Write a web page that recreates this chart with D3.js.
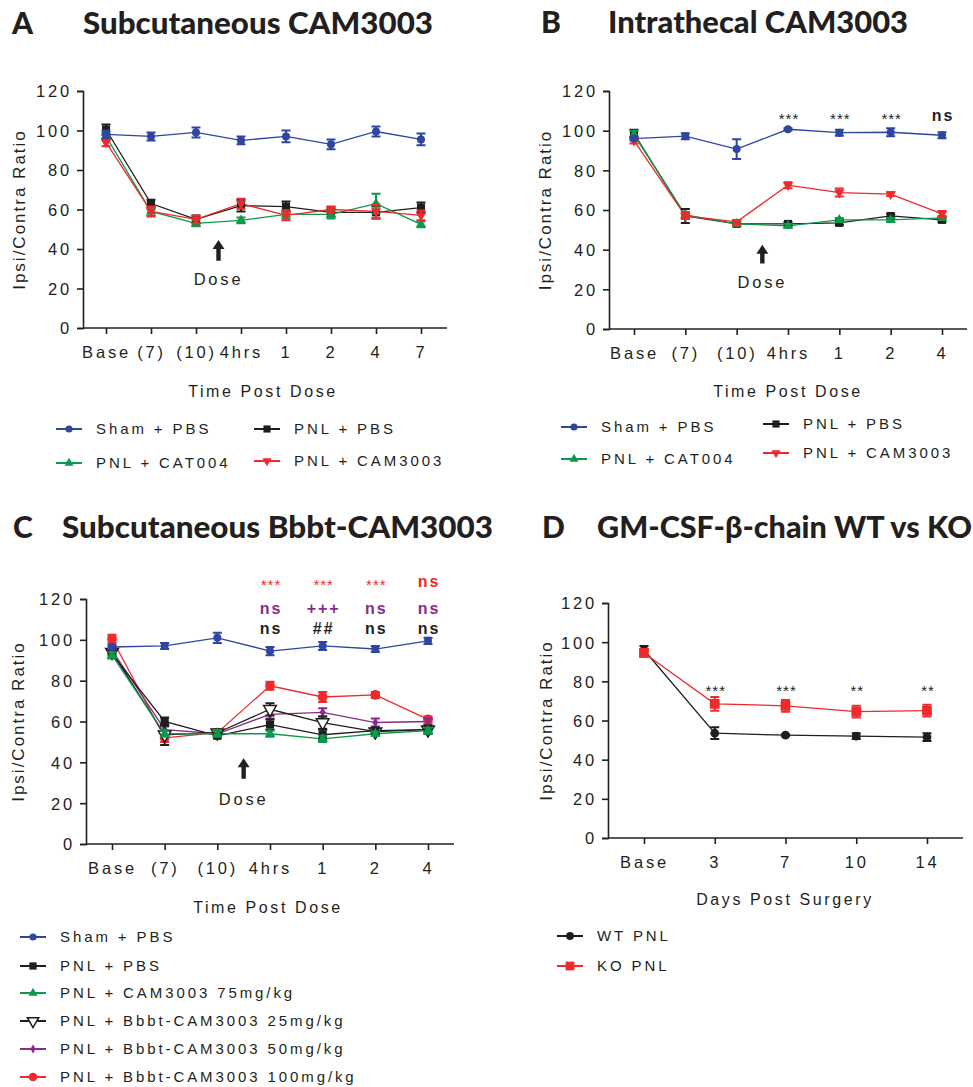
<!DOCTYPE html>
<html><head><meta charset="utf-8">
<script src="https://cdn.jsdelivr.net/npm/d3@7"></script>
<style>
body{margin:0;background:#fff;}
svg{display:block;}
</style></head>
<body>
<svg id="chart" width="973" height="1087"></svg>
<script>
// ---------- DATA ----------
const yTicks = [0,20,40,60,80,100,120];
const catsA = ["Base","(7)","(10)","4hrs","1","2","4","7"];
const catsB = ["Base","(7)","(10)","4hrs","1","2","4"];
const catsC = ["Base","(7)","(10)","4hrs","1","2","4"];
const catsD = ["Base","3","7","10","14"];

// Panel A
const aSham = [98,97,99,95,97,93,99.5,95.5];
const aShamErr = [2,2,2.5,2,3,2.5,2.5,3];
const aPbs = [100.5,63,55,62,61.5,58.5,58.5,61];
const aPbsErr = [2.5,2,2,3,2.5,2,3,2.5];
const aCat = [97,59,53,54.5,57.5,57.5,63,52.5];
const aCatErr = [2,2,1.5,1.5,2,2,5,1.5];
const aCam = [94,59,55,63,57,60,59,57];
const aCamErr = [2,2.5,2,2.5,2.5,1.5,3.5,2.5];

// Panel B
const bSham = [96,97.2,90.7,100.7,99,99.2,97.7];
const bShamErr = [1,1.5,5,0.5,1.5,2,1.5];
const bPbs = [98.5,57,53,53,53.5,57,55];
const bPbsErr = [2,3.5,1,1,1,1,1];
const bCat = [98,57.5,53,52,55,55,56];
const bCatErr = [2,1.5,1,1,1,1,1];
const bCam = [95,57,54,72.5,68.8,68,58];
const bCamErr = [1.5,1.5,1,1.5,2,1,1.5];
const bSig = ["","","","***","***","***","ns"];

// Panel C
const cSham = [96.5,97,101,94.5,97,95.5,99.5];
const cShamErr = [1,1.5,2.5,2,2,1.5,1.5];
const cPbs = [93,60,53,58.5,53.5,55.5,56];
const cPbsErr = [2,2,1,2.5,2.5,1.5,2];
const cCam75 = [92.5,54,54,54,51.5,54,55.5];
const cCam75Err = [1.5,1.5,1.5,1.5,1.5,1,1.5];
const cB25 = [94,53.5,54.5,66,59.5,55,56];
const cB25Err = [1.5,5,1.5,3,3,1.5,1.5];
const cB50 = [95,56,54,63.5,64.5,59.5,60];
const cB50Err = [1.5,1.5,1,2,2,2,1.5];
const cB100 = [100.5,52,54.5,77.5,72,73,61];
const cB100Err = [2,2,1,2,2.5,1.5,1.5];
const cSigRed = ["","","","***","***","***","ns"];
const cSigPurple = ["","","","ns","+++","ns","ns"];
const cSigBlack = ["","","","ns","##","ns","ns"];

// Panel D
const dWt = [96,53.5,52.5,52,51.5];
const dWtErr = [2,3,0.5,1.5,2];
const dKo = [94.5,68.5,67.5,64.5,65];
const dKoErr = [2,3.5,3,3,3];
const dSig = ["","***","***","**","**"];

// ---------- STYLE ----------
const C = {blue:"#2f45a0", black:"#1e1e1e", green:"#0b9a4a", red:"#ee2a2c", purple:"#8a2a8c", text:"#231f20"};
const tickFont = "'Liberation Sans', Arial, sans-serif";
const titleFont = "Lato, 'Open Sans', sans-serif";

const svg = d3.select("#chart");

function marker(g, type, color, x, y, size){
  const map = {circle:d3.symbolCircle, square:d3.symbolSquare, triUp:d3.symbolTriangle, triDown:d3.symbolTriangle, diamond:d3.symbolDiamond, openDown:d3.symbolTriangle};
  const p = g.append("path").attr("d", d3.symbol().type(map[type]).size(size)())
    .attr("transform", `translate(${x},${y})` + ((type==="triDown"||type==="openDown")?" rotate(180)":""));
  if(type==="openDown") p.attr("fill","#fff").attr("stroke",color).attr("stroke-width",1.5);
  else p.attr("fill",color);
  return p;
}

function panel(cfg){
  const g = svg.append("g");
  const x = d3.scaleLinear().domain([0,cfg.cats.length-1]).range([cfg.t0,cfg.t1]);
  const y = d3.scaleLinear().domain([0,120]).range([cfg.yb,cfg.yt]);
  // title
  g.append("text").attr("x",cfg.letterX).attr("y",cfg.titleY).text(cfg.letter)
    .attr("font-family",titleFont).attr("font-weight",900).attr("font-size",30).attr("fill",C.text);
  g.append("text").attr("x",cfg.titleX).attr("y",cfg.titleY).text(cfg.title)
    .attr("font-family",titleFont).attr("font-weight",900).attr("font-size",30).attr("fill",C.text)
    .attr("textLength",cfg.titleW).attr("lengthAdjust","spacingAndGlyphs");
  // y axis
  const ya = g.append("g").attr("transform",`translate(${cfg.ax},0)`)
    .call(d3.axisLeft(y).tickValues(yTicks).tickSize(6).tickPadding(5));
  // x axis
  const xa = g.append("g").attr("transform",`translate(0,${cfg.yb})`)
    .call(d3.axisBottom(x).tickValues(d3.range(cfg.cats.length)).tickFormat(i=>cfg.cats[i]).tickSize(6).tickPadding(12));
  xa.select(".domain").attr("d",`M${cfg.ax},0H${cfg.axEnd}`);
  [ya,xa].forEach(a=>{
    a.select(".domain").attr("stroke",C.text).attr("stroke-width",1.6);
    a.selectAll(".tick line").attr("stroke",C.text).attr("stroke-width",1.6);
    a.selectAll(".tick text").attr("font-family",tickFont).attr("font-size",16.5)
      .attr("letter-spacing","2.8px").attr("fill",C.text);
  });
  ya.selectAll(".tick text").attr("dy","0.36em");
  xa.selectAll(".tick text").attr("dy","0.75em");
  // axis labels
  g.append("text").attr("transform",`translate(${cfg.ylabX},${(cfg.yb+cfg.yt)/2}) rotate(-90)`)
    .attr("text-anchor","middle").text("Ipsi/Contra Ratio")
    .attr("font-family",tickFont).attr("font-size",17).attr("letter-spacing","2px").attr("fill",C.text);
  g.append("text").attr("x",cfg.xlabCx).attr("y",cfg.xlabY).attr("text-anchor","middle").text(cfg.xlab)
    .attr("font-family",tickFont).attr("font-size",16).attr("letter-spacing","2.6px").attr("fill",C.text);
  // series (draw in order)
  cfg.series.forEach(s=>{
    const line = d3.line().x((d,i)=>x(i)).y(d=>y(d));
    g.append("path").datum(s.values).attr("d",line).attr("fill","none")
      .attr("stroke",s.color).attr("stroke-width",1.3);
  });
  cfg.series.forEach(s=>{
    const sg = g.append("g");
    s.values.forEach((v,i)=>{
      const e = s.err[i];
      const cx = x(i);
      sg.append("path").attr("d",`M${cx},${y(v-e)}V${y(v+e)}M${cx-4.5},${y(v-e)}H${cx+4.5}M${cx-4.5},${y(v+e)}H${cx+4.5}`)
        .attr("stroke",s.color).attr("stroke-width",2).attr("fill","none");
      marker(sg,s.shape,s.color,cx,y(v),s.size);
    });
  });
  // dose arrow
  if(cfg.dose){
    const dx = x(2.5);
    const top = y(cfg.dose.top), bot = y(cfg.dose.bot);
    g.append("path").attr("d",`M${dx},${top}L${dx+6},${top+9}L${dx+2.2},${top+9}L${dx+2.2},${bot}L${dx-2.2},${bot}L${dx-2.2},${top+9}L${dx-6},${top+9}Z`)
      .attr("fill",C.text);
    g.append("text").attr("x",dx).attr("y",y(cfg.dose.text)).attr("text-anchor","middle").text("Dose")
      .attr("font-family",tickFont).attr("font-size",16.5).attr("letter-spacing","2.8px").attr("fill",C.text);
  }
  // significance
  (cfg.sig||[]).forEach(row=>{
    row.labels.forEach((t,i)=>{
      if(!t) return;
      const star = t.indexOf("*")>=0;
      g.append("text").attr("x",x(i)+1).attr("y",row.y + (star?3:0)).attr("text-anchor","middle").text(t)
        .attr("font-family",tickFont).attr("font-size",star?15:16).attr("font-weight",star?"normal":"bold")
        .attr("letter-spacing",star?"1px":"2px").attr("fill",row.color);
    });
  });
  // legend
  cfg.legend.forEach(l=>{
    g.append("line").attr("x1",l.x).attr("x2",l.x+26).attr("y1",l.y).attr("y2",l.y)
      .attr("stroke",l.s.color).attr("stroke-width",2);
    marker(g,l.s.shape,l.s.color,l.x+13,l.y,l.s.size*0.8);
    g.append("text").attr("x",l.x+40).attr("y",l.y).attr("dy","0.36em").text(l.s.name)
      .attr("font-family",tickFont).attr("font-size",15).attr("letter-spacing","2.9px").attr("fill",C.text);
  });
}

// ---------- PANELS ----------
const sA = [
  {name:"Sham + PBS", values:aSham, err:aShamErr, color:C.blue, shape:"circle", size:50},
  {name:"PNL + PBS", values:aPbs, err:aPbsErr, color:C.black, shape:"square", size:64},
  {name:"PNL + CAT004", values:aCat, err:aCatErr, color:C.green, shape:"triUp", size:45},
  {name:"PNL + CAM3003", values:aCam, err:aCamErr, color:C.red, shape:"triDown", size:45}
];
panel({letter:"A", letterX:12, title:"Subcutaneous CAM3003", titleX:83, titleY:34, titleW:350,
  cats:catsA, ax:83, axEnd:447, t0:106, t1:421, yb:328, yt:91,
  ylabX:25, xlab:"Time Post Dose", xlabCx:263, xlabY:397,
  series:[sA[1],sA[2],sA[3],sA[0]],
  dose:{top:44.5,bot:34,text:22},
  legend:[{s:sA[0],x:56,y:429},{s:sA[1],x:254,y:429},{s:sA[2],x:56,y:463},{s:sA[3],x:254,y:461}]
});

const sB = [
  {name:"Sham + PBS", values:bSham, err:bShamErr, color:C.blue, shape:"circle", size:50},
  {name:"PNL + PBS", values:bPbs, err:bPbsErr, color:C.black, shape:"square", size:64},
  {name:"PNL + CAT004", values:bCat, err:bCatErr, color:C.green, shape:"triUp", size:45},
  {name:"PNL + CAM3003", values:bCam, err:bCamErr, color:C.red, shape:"triDown", size:45}
];
panel({letter:"B", letterX:541, title:"Intrathecal CAM3003", titleX:608, titleY:33, titleW:300,
  cats:catsB, ax:609, axEnd:967, t0:634, t1:942, yb:329, yt:91,
  ylabX:551, xlab:"Time Post Dose", xlabCx:788, xlabY:397,
  series:[sB[1],sB[2],sB[3],sB[0]],
  dose:{top:42.5,bot:33,text:20.5},
  sig:[{y:121, color:C.text, labels:bSig}],
  legend:[{s:sB[0],x:561,y:427},{s:sB[1],x:763,y:424},{s:sB[2],x:561,y:459},{s:sB[3],x:763,y:453}]
});

const sC = [
  {name:"Sham + PBS", values:cSham, err:cShamErr, color:C.blue, shape:"circle", size:50},
  {name:"PNL + PBS", values:cPbs, err:cPbsErr, color:C.black, shape:"square", size:66},
  {name:"PNL + CAM3003 75mg/kg", values:cCam75, err:cCam75Err, color:C.green, shape:"triUp", size:45},
  {name:"PNL + Bbbt-CAM3003 25mg/kg", values:cB25, err:cB25Err, color:C.black, shape:"openDown", size:70},
  {name:"PNL + Bbbt-CAM3003 50mg/kg", values:cB50, err:cB50Err, color:C.purple, shape:"diamond", size:30},
  {name:"PNL + Bbbt-CAM3003 100mg/kg", values:cB100, err:cB100Err, color:C.red, shape:"circle", size:75}
];
panel({letter:"C", letterX:13, title:"Subcutaneous Bbbt-CAM3003", titleX:62, titleY:538, titleW:431,
  cats:catsC, ax:86, axEnd:454, t0:112, t1:428, yb:844, yt:599,
  ylabX:24, xlab:"Time Post Dose", xlabCx:268, xlabY:913,
  series:[sC[5],sC[4],sC[3],sC[1],sC[2],sC[0]],
  dose:{top:42,bot:32,text:19},
  sig:[{y:587,color:C.red,labels:cSigRed},{y:614,color:C.purple,labels:cSigPurple},{y:634,color:C.text,labels:cSigBlack}],
  legend:sC.map((s,i)=>({s:s,x:20,y:[937,966,993,1021,1049,1077][i]}))
});

const sD = [
  {name:"WT PNL", values:dWt, err:dWtErr, color:C.black, shape:"circle", size:60},
  {name:"KO PNL", values:dKo, err:dKoErr, color:C.red, shape:"square", size:95}
];
panel({letter:"D", letterX:542, title:"GM-CSF-β-chain WT vs KO", titleX:597, titleY:538, titleW:375,
  cats:catsD, ax:608, axEnd:963, t0:644, t1:927, yb:838, yt:603,
  ylabX:552, xlab:"Days Post Surgery", xlabCx:785, xlabY:905,
  series:[sD[0],sD[1]],
  sig:[{y:693,color:C.text,labels:dSig}],
  legend:[{s:sD[0],x:557,y:936},{s:sD[1],x:557,y:966}]
});
</script>
</body></html>
